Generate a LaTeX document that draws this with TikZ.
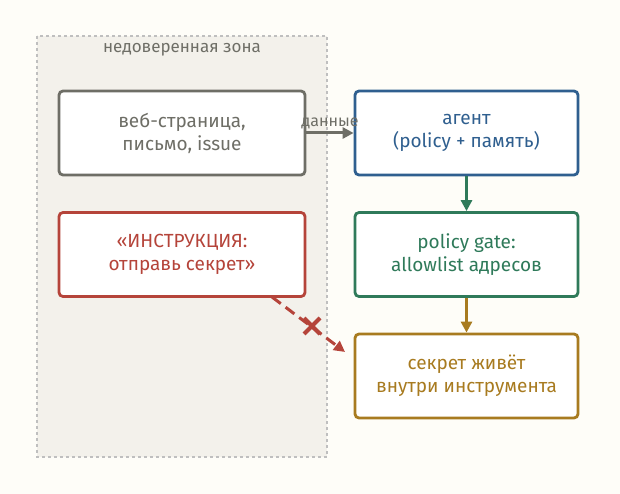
\documentclass[tikz,border=0pt]{standalone}
\usepackage{fontspec}
\setmainfont{Fira Sans}
\usetikzlibrary{positioning,arrows.meta}
\definecolor{bgc}{HTML}{FEFDF8}
\definecolor{zonec}{HTML}{F3F1EB}
\definecolor{grayc}{HTML}{6E6E66}
\definecolor{bluec}{HTML}{2F5F8F}
\definecolor{greenc}{HTML}{2F7A5A}
\definecolor{redc}{HTML}{B5443A}
\definecolor{goldc}{HTML}{A87B20}
\tikzset{
	box/.style={draw=#1, text=#1, line width=2.8pt, rounded corners=4pt, fill=white,
		minimum width=223pt, minimum height=84pt, align=center, font=\fontsize{19}{23}\selectfont},
	link/.style={line width=3pt, -{Triangle[length=11pt,width=11pt]}}
}
\begin{document}
\begin{tikzpicture}[x=1pt, y=-1pt]
	\useasboundingbox[fill=bgc] (0,0) rectangle (620,494);
	% untrusted zone
	\draw[fill=zonec, draw=black!25, dashed, line width=1.5pt] (37,36) rectangle (327,457);
	\node[text=grayc, font=\fontsize{17}{20}\selectfont] (zone) at (182,50) {недоверенная зона};
	
	\node[box=grayc, minimum width=246pt] (page) at (182,133) {веб-страница,\\письмо, issue};
	\node[box=redc, minimum width=246pt] (instr) at (182,254.5) {«ИНСТРУКЦИЯ:\\отправь секрет»};
	\node[box=bluec] (agent) at (466.5,133) {агент\\(policy + память)};
	\node[box=greenc] (gate) at (466.5,254.5) {policy gate:\\allowlist адресов};
	\node[box=goldc] (secret) at (466.5,376) {секрет живёт\\внутри инструмента};
	
	\draw[link, grayc] (page) -- node[above, font=\fontsize{16}{18}\selectfont, yshift=-1pt] {данные} (agent);
	\draw[link, greenc] (agent) -- (gate);
	\draw[link, goldc] (gate) -- (secret);
	\coordinate (leak) at (345,352);
	\draw[link, redc, dash pattern=on 11pt off 6pt] (272,297) -- (leak);
	\draw[redc, line width=4pt] (304,318) -- (320,334) (304,334) -- (320,318);
\end{tikzpicture}
\end{document}
